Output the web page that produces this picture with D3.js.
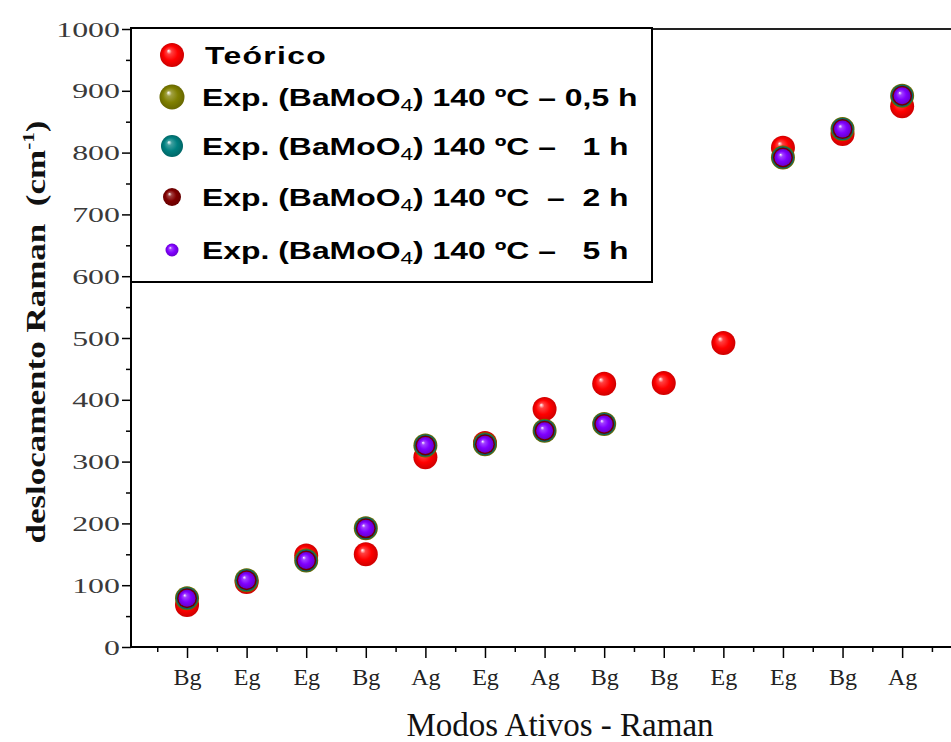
<!DOCTYPE html>
<html>
<head>
<meta charset="utf-8">
<script src="https://cdn.jsdelivr.net/npm/d3@7"></script>
<style>
  html, body { margin: 0; padding: 0; background: #fff; }
  svg { display: block; }
  .serif { font-family: "Liberation Serif", "Times New Roman", serif; }
  .sans { font-family: "Liberation Sans", Arial, sans-serif; }
</style>
</head>
<body>
<svg id="chart" width="951" height="742"></svg>
<script>
// ---------- data ----------
const categories = ["Bg","Eg","Eg","Bg","Ag","Eg","Ag","Bg","Bg","Eg","Eg","Bg","Ag"];
const teorico = [68,105,148,150,307,330,385,426,427,492,808,830,875];
const exp05h  = [79,108,140,192,326,328,350,361,null,null,792,838,892];
const exp1h   = [79,108,140,192,326,328,350,361,null,null,792,838,892];
const exp2h   = [79,108,140,192,326,328,350,361,null,null,792,838,892];
const exp5h   = [79,108,140,192,326,328,350,361,null,null,792,838,892];
const yTicks = [0,100,200,300,400,500,600,700,800,900,1000];
const seriesNames = ["Teórico","0,5 h","1 h","2 h","5 h"];

const series = [
  {name: seriesNames[0], values: teorico, color: "#ff0000", r: 12, lr: 12},
  {name: seriesNames[1], values: exp05h,  color: "#808000", r: 12, lr: 12.5},
  {name: seriesNames[2], values: exp1h,   color: "#008080", r: 11, lr: 11},
  {name: seriesNames[3], values: exp2h,   color: "#800000", r: 10, lr: 9},
  {name: seriesNames[4], values: exp5h,   color: "#8000ff", r: 8.5, lr: 6.5}
];

const svg = d3.select("#chart");
const L = 131, R = 951, T = 29, B = 647;

const x = d3.scaleLinear().domain([0.06, 13.82]).range([L, R]);
const y = d3.scaleLinear().domain([0, 1000]).range([B, T]);

// gradients
const defs = svg.append("defs");
series.forEach((s, i) => {
  const c = d3.color(s.color);
  const g = defs.append("radialGradient").attr("id", "grad" + i)
    .attr("cx", "50%").attr("cy", "50%").attr("r", "50%")
    .attr("fx", "35%").attr("fy", "32%");
  g.append("stop").attr("offset", "0%").attr("stop-color", "#ffffff");
  g.append("stop").attr("offset", "22%").attr("stop-color", d3.interpolateRgb("#ffffff", s.color)(0.75));
  g.append("stop").attr("offset", "60%").attr("stop-color", s.color);
  g.append("stop").attr("offset", "100%").attr("stop-color", c.darker(0.6).formatHex());
});

// top frame line
svg.append("line").attr("x1", L).attr("x2", R).attr("y1", T).attr("y2", T)
  .attr("stroke", "#222").attr("stroke-width", 2);

// y axis
const yAxis = svg.append("g").attr("transform", `translate(${L},0)`)
  .call(d3.axisLeft(y).tickValues(yTicks).tickSize(9).tickPadding(2).tickFormat(d3.format("d")));
svg.append("g").attr("transform", `translate(${L},0)`)
  .call(d3.axisLeft(y).tickValues(d3.range(50, 1000, 100)).tickSize(5).tickFormat(""))
  .select(".domain").remove();
yAxis.select(".domain").attr("stroke", "#000").attr("stroke-width", 2).attr("d", `M0,${B}V${T}`);

// x axis
const xAxis = svg.append("g").attr("transform", `translate(0,${B})`)
  .call(d3.axisBottom(x).tickValues(d3.range(1, 14)).tickSize(11).tickPadding(10)
    .tickFormat(i => categories[i - 1]));
svg.append("g").attr("transform", `translate(0,${B})`)
  .call(d3.axisBottom(x).tickValues(d3.range(0.5, 13.6, 1)).tickSize(5).tickFormat(""))
  .select(".domain").remove();
xAxis.select(".domain").attr("stroke", "#000").attr("stroke-width", 2).attr("d", `M${L},0H${R}`);

svg.selectAll(".tick line").attr("stroke", "#000").attr("stroke-width", 1.5);
const ySx = 1.45;
yAxis.selectAll(".tick text").attr("class", "serif").attr("font-size", 22).attr("fill", "#3a3a3a")
  .attr("x", -11 / ySx).attr("transform", `scale(${ySx},1)`);
xAxis.selectAll(".tick text").attr("class", "serif").attr("font-size", 24).attr("fill", "#222");

// points
series.forEach((s, i) => {
  svg.append("g").selectAll("circle")
    .data(s.values.map((v, k) => ({v, k})).filter(d => d.v !== null))
    .join("circle")
    .attr("cx", d => x(d.k + 1))
    .attr("cy", d => y(d.v))
    .attr("r", s.r)
    .attr("fill", `url(#grad${i})`);
});

// legend
const lg = svg.append("g");
lg.append("rect").attr("x", L).attr("y", 28).attr("width", 652 - L).attr("height", 282 - 28)
  .attr("fill", "#fff").attr("stroke", "#000").attr("stroke-width", 2);
const legY = [55, 97, 146, 197, 250];
const labels = [
  null,
  ["Exp. (BaMoO", "4", ") 140 ºC – 0,5 h"],
  ["Exp. (BaMoO", "4", ") 140 ºC –   1 h"],
  ["Exp. (BaMoO", "4", ") 140 ºC  –  2 h"],
  ["Exp. (BaMoO", "4", ") 140 ºC –   5 h"]
];
const lSx = 1.33;
series.forEach((s, i) => {
  lg.append("circle").attr("cx", 172).attr("cy", legY[i]).attr("r", s.lr).attr("fill", `url(#grad${i})`);
  const t = lg.append("text").attr("class", "sans")
    .attr("transform", `translate(${i === 0 ? 205 : 202},${legY[i] + 9}) scale(${lSx},1)`)
    .attr("font-size", 24).attr("font-weight", "bold").attr("fill", "#000")
    .style("white-space", "pre");
  if (i === 0) {
    t.text(s.name).attr("letter-spacing", 1);
  } else {
    t.append("tspan").text(labels[i][0]);
    t.append("tspan").text(labels[i][1]).attr("font-size", 17).attr("font-weight", "normal").attr("dy", 5);
    t.append("tspan").text(labels[i][2]).attr("dy", -5);
  }
});

// axis titles
svg.append("text").attr("class", "serif").attr("x", 560).attr("y", 736)
  .attr("text-anchor", "middle").attr("font-size", 33).attr("fill", "#111")
  .text("Modos Ativos - Raman");

const yt = svg.append("text").attr("class", "serif")
  .attr("transform", "translate(45,332) rotate(-90) scale(1.25,1)")
  .attr("text-anchor", "middle").attr("font-size", 28).attr("font-weight", "bold").attr("fill", "#111")
  .style("white-space", "pre");
yt.append("tspan").text("deslocamento Raman  (cm");
yt.append("tspan").text("-1").attr("font-size", 17).attr("dy", -11);
yt.append("tspan").text(")").attr("dy", 11);
</script>
</body>
</html>
